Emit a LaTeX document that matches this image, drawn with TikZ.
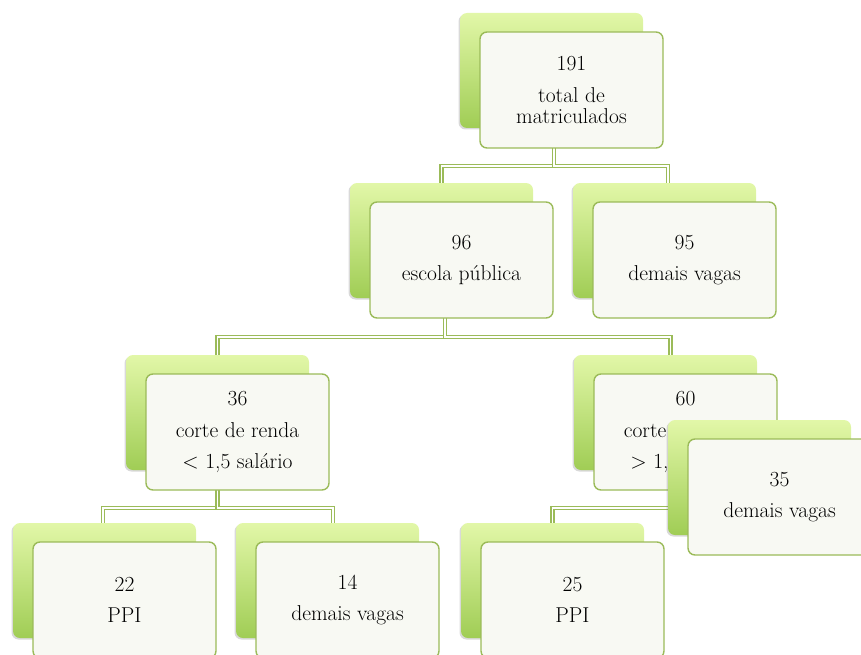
\documentclass[tikz,border=0pt]{standalone}
\usepackage{fontspec}
\usepackage{tikz}
\usetikzlibrary{backgrounds, shadows}
\definecolor{leaflight}{HTML}{E2F7A8}
\definecolor{leafdark}{HTML}{A0CD55}
\definecolor{rim}{HTML}{9BBB59}
\definecolor{paper}{HTML}{F8F9F3}
\tikzset{%
	back/.style={rectangle, rounded corners=7pt, minimum width=183pt, minimum height=115pt,%
		top color=leaflight, bottom color=leafdark,%
		drop shadow={shadow xshift=-1.5pt, shadow yshift=-1.5pt, opacity=0.3}},
	card/.style={draw=rim, line width=1.4pt, rectangle, rounded corners=7pt,%
		minimum width=183pt, minimum height=116pt, fill=paper, align=center, inner sep=0pt,%
		font=\fontsize{21.5}{21}\selectfont},
	link/.style={draw=rim, line width=1.3pt, double=white, double distance=1.5pt}
}
\begin{document}
\begin{tikzpicture}[x=1pt, y=-1pt]
	\useasboundingbox (0,0) rectangle (861,655);
	\clip (0,0) rectangle (861,655);

	% top
	\node[back] (b191) at (551.5,70.5) {};
	\node[card] (f191) at ([shift={(20,19.5)}]b191.center) {191\\[10.5pt]total de\\matriculados};

	% second row
	\node[back] (b96) at (441.5,240.5) {};
	\node[card] (f96) at ([shift={(20,19.5)}]b96.center) {96\\[10.5pt]escola pública};
	\node[back] (b95) at (664.5,240.5) {};
	\node[card] (f95) at ([shift={(20,19.5)}]b95.center) {95\\[10.5pt]demais vagas};

	% third row
	\node[back] (b36) at (217.5,412.5) {};
	\node[card] (f36) at ([shift={(20,19.5)}]b36.center) {36\\[10.5pt]corte de renda\\[10.5pt]< 1,5 salário};
	\node[back] (b60) at (665.5,412.5) {};
	\node[card] (f60) at ([shift={(20,19.5)}]b60.center) {60\\[10.5pt]corte de renda\\[10.5pt]> 1,5 salário};

	% bottom row
	\node[back] (b22) at (104.5,580.5) {};
	\node[card] (f22) at ([shift={(20,19.5)}]b22.center) {22\\[10.5pt]PPI};
	\node[back] (b14) at (327.5,580.5) {};
	\node[card] (f14) at ([shift={(20,19.5)}]b14.center) {14\\[10.5pt]demais vagas};
	\node[back] (b25) at (552.5,580.5) {};
	\node[card] (f25) at ([shift={(20,19.5)}]b25.center) {25\\[10.5pt]PPI};
	\node[back] (b35) at (759.5,477.5) {};
	\node[card] (f35) at ([shift={(20,19.5)}]b35.center) {35\\[10.5pt]demais vagas};

	\begin{scope}[on background layer]
		\draw[link] ([xshift=2.5pt]b191.center) -- ++(0,95.5) -| (b96.north);
		\draw[link] ([xshift=2.5pt]b191.center) -- ++(0,95.5) -| ([xshift=3.5pt]b95.north);
		\draw[link] ([xshift=3.5pt]b96.center) -- ++(0,96.5) -| (b36.north);
		\draw[link] ([xshift=3.5pt]b96.center) -- ++(0,96.5) -| ([xshift=5pt]b60.north);
		\draw[link] (b36.center) -- ++(0,95.5) -| ([xshift=-1.5pt]b22.north);
		\draw[link] (b36.center) -- ++(0,95.5) -| ([xshift=5.5pt]b14.north);
		\draw[link] ([xshift=6pt]b60.center) -- ++(0,95.5) -| (b25.north);
		\draw[link] ([xshift=6pt]b60.center) -- ++(0,95.5) -| (b35.north);
	\end{scope}
\end{tikzpicture}
\end{document}
